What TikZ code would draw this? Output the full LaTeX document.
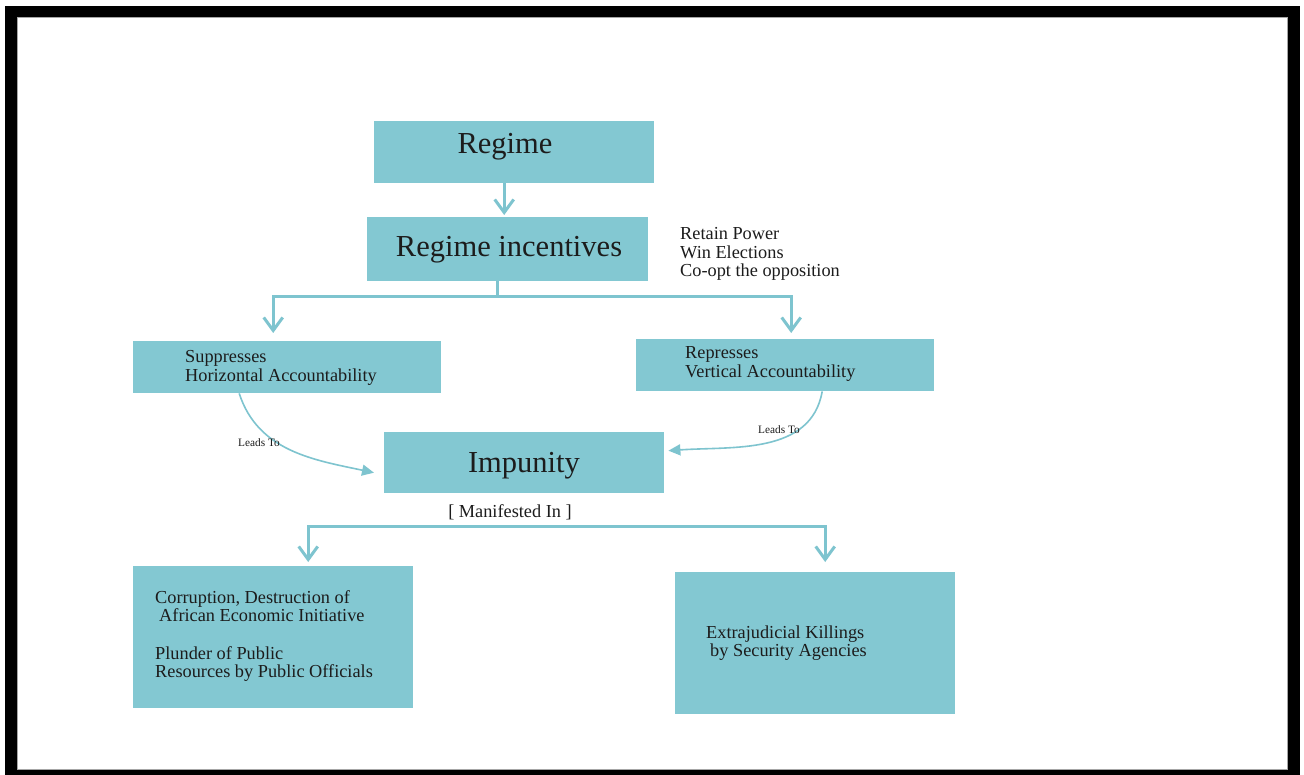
\documentclass[tikz,border=0pt]{standalone}
\usepackage{fontspec}
\setmainfont{Liberation Serif}
\usetikzlibrary{arrows.meta,calc}
\definecolor{boxteal}{HTML}{83C8D2}
\definecolor{lineteal}{HTML}{7EC4CF}
\definecolor{inktext}{HTML}{1C1C1C}
\begin{document}
\begin{tikzpicture}[x=1pt,y=-1pt,
  box/.style={fill=boxteal,draw=none,inner sep=0pt,anchor=north west},
  title/.style={text=inktext,font=\fontsize{30.5}{33}\selectfont,inner sep=0pt},
  body/.style={text=inktext,font=\fontsize{18.3}{18.7}\selectfont,align=left,anchor=west,inner sep=0pt},
  small/.style={text=inktext,font=\fontsize{11.3}{13}\selectfont,inner sep=0pt},
  flow/.style={draw=lineteal,line width=3pt},
  flowarrow/.style={flow,-{Straight Barb[length=13pt,width=19pt]}},
  lead/.style={draw=lineteal,line width=1.6pt,-{Triangle[length=12pt,width=11pt]}}]
% page and black frame
\useasboundingbox (0,0) rectangle (1304,775);
\fill[white] (0,0) rectangle (1304,775);
\fill[black] (5,6) rectangle (1300,775);
\fill[white] (17,17) rectangle (1287,769);
\draw[gray!70,line width=0.8pt] (17,17) rectangle (1287,769);

% boxes
\node[box,minimum width=280pt,minimum height=62pt] (regime) at (374,121) {};
\node[box,minimum width=281pt,minimum height=64pt] (inc) at (367,217) {};
\node[box,minimum width=308pt,minimum height=52pt] (supp) at (133,341) {};
\node[box,minimum width=298pt,minimum height=52pt] (rep) at (636,339) {};
\node[box,minimum width=280pt,minimum height=61pt] (imp) at (384,432) {};
\node[box,minimum width=280pt,minimum height=142pt] (corr) at (133,566) {};
\node[box,minimum width=280pt,minimum height=142pt] (extra) at (675,572) {};

% box texts
\node[title] (regimeT) at (505,147) {Regime};
\node[title] (incT) at (509,250) {Regime incentives};
\node[title] (impT) at (524,466) {Impunity};
\node[body] (suppT) at (185,368) {Suppresses\\Horizontal Accountability};
\node[body] (repT) at (685,364) {Represses\\Vertical Accountability};
\node[body] (corrT) at (155,636) {Corruption, Destruction of\\\hspace{4pt}African Economic Initiative\\[18.7pt]Plunder of Public\\Resources by Public Officials};
\node[body] (extraT) at (706,643) {Extrajudicial Killings\\\hspace{4pt}by Security Agencies};

% free texts
\node[body] (goals) at (680,254) {Retain Power\\Win Elections\\Co-opt the opposition};
\node[body,anchor=center] (manif) at (510,512) {[ Manifested In ]};

% regime to incentives
\draw[flowarrow,shorten >=2pt] ([xshift=-10pt]regime.south) -- ([xshift=-10pt]regime.south |- inc.north);

% incentives split to the two accountability boxes
\coordinate (fork) at (497,297);
\draw[flow] (fork |- inc.south) -- (fork);
\draw[flowarrow,shorten >=8pt] (fork) -| ([xshift=-14pt]supp.north);
\draw[flowarrow,shorten >=6pt] (fork) -| ([xshift=6pt]rep.north);

% both lead to impunity
\coordinate (leadEndL) at ($(imp.west)+(-10,10)$);
\coordinate (leadEndR) at ($(imp.east)+(4,-12)$);
\draw[lead] ([xshift=-48pt]supp.south) to[out=-72,in=168] (leadEndL);
\node[small] (leadL) at (259,443) {Leads To};
\draw[lead] ([xshift=37pt]rep.south) to[out=-100,in=4] (leadEndR);
\node[small] (leadR) at (779,430) {Leads To};

% impunity manifested in
\coordinate (split) at (510,526);
\draw[flowarrow,shorten >=4pt] (split) -| ([xshift=35pt]corr.north);
\draw[flowarrow,shorten >=10pt] (split) -| ([xshift=10pt]extra.north);
\end{tikzpicture}
\end{document}
